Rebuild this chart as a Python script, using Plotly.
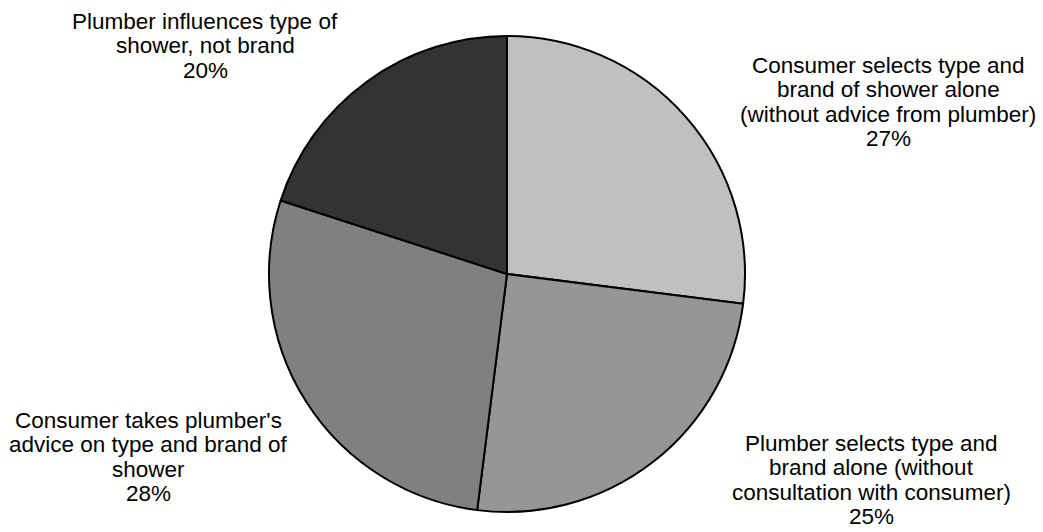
import plotly.graph_objects as go

categories = [
    "Consumer selects type and<br>brand of shower alone<br>(without advice from plumber)",
    "Plumber selects type and<br>brand alone (without<br>consultation with consumer)",
    "Consumer takes plumber's<br>advice on type and brand of<br>shower",
    "Plumber influences type of<br>shower, not brand",
]
values = [27, 25, 28, 20]
colors = ["#c0c0c0", "#969696", "#808080", "#333333"]

# label block centres (pixels from top-left)
label_pos = [(888, 102), (871, 480), (148, 457), (205, 46)]

W, H = 1043, 532
cx, cy, r = 507, 274, 238
LINE = 24.5

fig = go.Figure(go.Pie(
    labels=[c.replace("<br>", " ") for c in categories],
    values=values,
    sort=False,
    direction="clockwise",
    rotation=0,
    marker=dict(colors=colors, line=dict(color="#000000", width=2)),
    textinfo="none",
    hoverinfo="label+percent",
    domain=dict(x=[(cx - r) / W, (cx + r) / W], y=[1 - (cy + r) / H, 1 - (cy - r) / H]),
    showlegend=False,
))

total = sum(values)
for cat, v, (px, py) in zip(categories, values, label_pos):
    lines = cat.split("<br>") + [f"{round(100 * v / total)}%"]
    n = len(lines)
    for i, ln in enumerate(lines):
        off = (i - (n - 1) / 2) * LINE
        fig.add_annotation(
            x=px / W, y=1 - (py + off) / H, xref="paper", yref="paper",
            text=ln, showarrow=False, align="center",
            xanchor="center", yanchor="middle",
            font=dict(family="Liberation Sans, Arial, sans-serif", size=22.5, color="#000000"),
        )

fig.update_layout(
    width=W, height=H,
    margin=dict(l=0, r=0, t=0, b=0),
    paper_bgcolor="#ffffff",
    plot_bgcolor="#ffffff",
)

fig.write_html("out.html", config={"displayModeBar": False},
               post_script="document.body.style.margin='0';")
